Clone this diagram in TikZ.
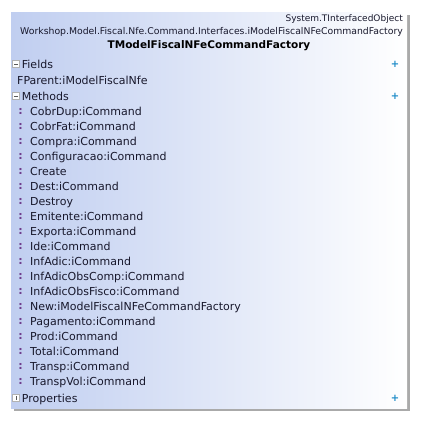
\documentclass[tikz,border=0pt]{standalone}
\usepackage{fontspec}
\setmainfont{DejaVu Sans}
\usetikzlibrary{positioning}

\definecolor{classblue}{RGB}{192,206,240}
\definecolor{plusblue}{RGB}{30,140,200}
\definecolor{methodpurple}{RGB}{110,60,140}
\definecolor{textdark}{RGB}{24,24,44}
\definecolor{shadowgray}{RGB}{170,170,170}

\begin{document}
\begin{tikzpicture}[
    x=1pt, y=-1pt,
    node distance=15pt,
    header/.style={anchor=east, inner sep=0pt, font=\fontsize{9}{9}\selectfont, text=textdark},
    classname/.style={inner sep=0pt, font=\fontsize{10.5}{10.5}\selectfont\bfseries, text=black},
    member/.style={anchor=west, inner sep=0pt, text height=8pt, text depth=0pt, font=\fontsize{11}{11}\selectfont, text=textdark},
    method/.style={member, label={[label distance=7pt, inner sep=0pt, text=methodpurple, font=\fontsize{11}{11}\selectfont\bfseries]left:{:}}},
    section/.style={member, right=2pt of #1},
    minusbox/.style={draw=gray!60, fill=white, minimum size=7pt, inner sep=0pt,
        path picture={\draw[gray!70!black] ([xshift=1.5pt]path picture bounding box.west) -- ([xshift=-1.5pt]path picture bounding box.east);}},
    plusbox/.style={minusbox,
        path picture={\draw[gray!70!black] ([yshift=-1.5pt]path picture bounding box.north) -- ([yshift=1.5pt]path picture bounding box.south);}},
    expander/.style={inner sep=0pt, text=plusblue, font=\fontsize{10}{10}\selectfont\bfseries}
]
\useasboundingbox (0,0) rectangle (423,424);

% Class shape with drop shadow
\fill[shadowgray] (14,15) rectangle (410,411);
\shade[left color=classblue, right color=white] (11,12) rectangle (407,408);

% Ancestors and class name
\node[header] (ancestor) at (403,19) {System.TInterfacedObject};
\node[header, font=\fontsize{9.3}{9.3}\selectfont] (iface) at (403,32) {Workshop.Model.Fiscal.Nfe.Command.Interfaces.iModelFiscalNFeCommandFactory};
\node[classname] (classname) at (209,46) {TModelFiscalNFeCommandFactory};

% Fields
\node[minusbox] (fieldsbox) at (16,64) {};
\node[section=fieldsbox] (fields) {Fields};
\node[expander] (fieldsplus) at (395,64) {+};
\node[member] (fparent) at (17,80) {FParent:iModelFiscalNfe};

% Methods
\node[minusbox] (methodsbox) at (16,96) {};
\node[section=methodsbox] (methods) {Methods};
\node[expander] (methodsplus) at (395,96) {+};

\node[method] (cobrdup) at (30,111) {CobrDup:iCommand};
\node[method, below=of cobrdup.west, anchor=west] (cobrfat) {CobrFat:iCommand};
\node[method, below=of cobrfat.west, anchor=west] (compra) {Compra:iCommand};
\node[method, below=of compra.west, anchor=west] (configuracao) {Configuracao:iCommand};
\node[method, below=of configuracao.west, anchor=west] (create) {Create};
\node[method, below=of create.west, anchor=west] (dest) {Dest:iCommand};
\node[method, below=of dest.west, anchor=west] (destroy) {Destroy};
\node[method, below=of destroy.west, anchor=west] (emitente) {Emitente:iCommand};
\node[method, below=of emitente.west, anchor=west] (exporta) {Exporta:iCommand};
\node[method, below=of exporta.west, anchor=west] (ide) {Ide:iCommand};
\node[method, below=of ide.west, anchor=west] (infadic) {InfAdic:iCommand};
\node[method, below=of infadic.west, anchor=west] (obscomp) {InfAdicObsComp:iCommand};
\node[method, below=of obscomp.west, anchor=west] (obsfisco) {InfAdicObsFisco:iCommand};
\node[method, below=of obsfisco.west, anchor=west] (new) {New:iModelFiscalNFeCommandFactory};
\node[method, below=of new.west, anchor=west] (pagamento) {Pagamento:iCommand};
\node[method, below=of pagamento.west, anchor=west] (prod) {Prod:iCommand};
\node[method, below=of prod.west, anchor=west] (total) {Total:iCommand};
\node[method, below=of total.west, anchor=west] (transp) {Transp:iCommand};
\node[method, below=of transp.west, anchor=west] (transpvol) {TranspVol:iCommand};

% Properties
\node[plusbox] (propsbox) at (16,398) {};
\node[section=propsbox] (props) {Properties};
\node[expander] (propsplus) at (395,398) {+};

\end{tikzpicture}
\end{document}
